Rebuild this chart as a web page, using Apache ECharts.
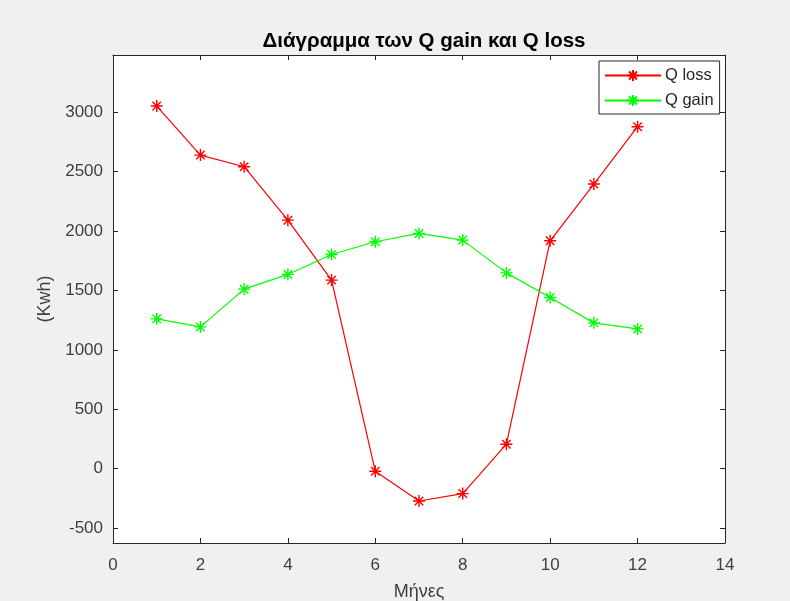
<!DOCTYPE html>
<html>
<head>
<meta charset="utf-8">
<script src="https://cdn.jsdelivr.net/npm/echarts@6/dist/echarts.min.js"></script>
<style>
  html, body { margin: 0; padding: 0; background: #f0f0f0; }
  #chart { width: 790px; height: 601px; }
</style>
</head>
<body>
<div id="chart"></div>
<script>
// Monthly heat balance (kWh)
const months = [1, 2, 3, 4, 5, 6, 7, 8, 9, 10, 11, 12];
const qLoss = [3053, 2640, 2542, 2092, 1587, -23, -273, -211, 205, 1918, 2396, 2879];
const qGain = [1261, 1193, 1511, 1635, 1803, 1910, 1980, 1924, 1648, 1441, 1227, 1176];
const yTicks = [-500, 0, 500, 1000, 1500, 2000, 2500, 3000];

const FONT = '"Liberation Sans", Arial, sans-serif';
const AXIS_COLOR = '#262626';
const TEXT_COLOR = '#404040';
// asterisk marker: plus + cross, drawn by stroke
const STAR = 'path://M0,-6L0,6M-6,0L6,0M-4.24,-4.24L4.24,4.24M-4.24,4.24L4.24,-4.24';

function pairs(ys) { return months.map((m, i) => [m, ys[i]]); }

function seriesOf(name, ys, color) {
  return {
    name: name,
    type: 'line',
    data: pairs(ys),
    symbol: STAR,
    symbolSize: 12,
    showAllSymbol: true,
    lineStyle: { color: color, width: 1.2 },
    itemStyle: { color: color, borderColor: color, borderWidth: 1.4 },
    emphasis: { disabled: true },
    animation: false
  };
}

const plain = v => String(v);

const chart = echarts.init(document.getElementById('chart'), null, { renderer: 'canvas' });
chart.setOption({
  backgroundColor: '#f0f0f0',
  animation: false,
  title: {
    text: 'Διάγραμμα των Q gain και Q loss',
    left: 419, top: 26, textAlign: 'center',
    textStyle: { fontFamily: FONT, fontSize: 20.5, fontWeight: 'bold', color: '#000' }
  },
  legend: {
    orient: 'vertical',
    left: 599, top: 61,
    padding: [6, 6, 5, 5],
    itemGap: 8,
    itemWidth: 56, itemHeight: 14,
    backgroundColor: '#ffffff',
    borderColor: AXIS_COLOR, borderWidth: 1, borderRadius: 0,
    textStyle: { fontFamily: FONT, fontSize: 16.5, color: '#262626', padding: [0, 0, 0, -1] },
    data: ['Q loss', 'Q gain']
  },
  grid: {
    left: 113, right: 65, top: 55, bottom: 58,
    outerBoundsMode: 'none', containLabel: false,
    show: true, backgroundColor: '#ffffff', borderWidth: 0
  },
  xAxis: [{
    type: 'value', min: 0, max: 14, interval: 2,
    name: 'Μήνες', nameLocation: 'middle', nameGap: 40,
    nameTextStyle: { fontFamily: FONT, fontSize: 18, color: TEXT_COLOR },
    axisLine: { show: true, onZero: false, lineStyle: { color: AXIS_COLOR, width: 1 } },
    axisTick: { show: true, inside: true, length: 5, lineStyle: { color: AXIS_COLOR } },
    axisLabel: { fontFamily: FONT, fontSize: 17, color: TEXT_COLOR, margin: 14, showMinLabel: true, showMaxLabel: true, formatter: plain },
    splitLine: { show: false }
  }, {
    type: 'value', min: 0, max: 14, interval: 2, position: 'top',
    axisLine: { show: true, onZero: false, lineStyle: { color: AXIS_COLOR, width: 1 } },
    axisTick: { show: true, inside: true, length: 5, lineStyle: { color: AXIS_COLOR } },
    axisLabel: { show: false },
    splitLine: { show: false }
  }],
  yAxis: [{
    type: 'value', min: -627, max: 3483,
    name: '(Kwh)', nameLocation: 'middle', nameGap: 53, nameRotate: 90,
    nameTextStyle: { fontFamily: FONT, fontSize: 18, color: TEXT_COLOR },
    axisLine: { show: true, onZero: false, lineStyle: { color: AXIS_COLOR, width: 1 } },
    axisTick: { show: true, inside: true, length: 5, customValues: yTicks, lineStyle: { color: AXIS_COLOR } },
    axisLabel: { fontFamily: FONT, fontSize: 17, color: TEXT_COLOR, margin: 10, customValues: yTicks, formatter: plain },
    splitLine: { show: false }
  }, {
    type: 'value', min: -627, max: 3483, position: 'right',
    axisLine: { show: true, onZero: false, lineStyle: { color: AXIS_COLOR, width: 1 } },
    axisTick: { show: true, inside: true, length: 5, customValues: yTicks, lineStyle: { color: AXIS_COLOR } },
    axisLabel: { show: false },
    splitLine: { show: false }
  }],
  series: [
    seriesOf('Q loss', qLoss, '#ff0000'),
    seriesOf('Q gain', qGain, '#00ff00')
  ]
});
</script>
</body>
</html>
